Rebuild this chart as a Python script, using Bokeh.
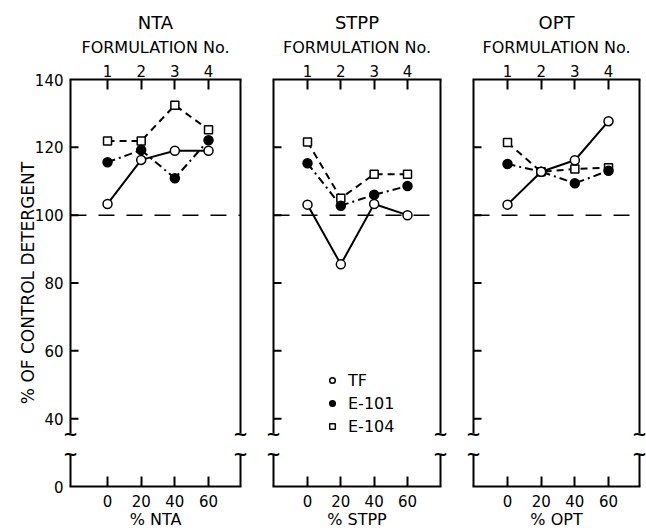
from bokeh.plotting import figure
from bokeh.models import Range1d, LinearAxis, FixedTicker, Legend, LegendItem, Label
from bokeh.layouts import row
from bokeh.embed import file_html
from bokeh.resources import INLINE

FONT = "DejaVu Sans"

# ---- data ----
pct = [0, 20, 40, 60]                      # % substitute
formulation = ["1", "2", "3", "4"]         # formulation numbers (top axis)
y_ticks = [20, 40, 60, 80, 100, 120, 140]  # 20 is where the broken axis shows "0"
y_labels = ["0", "40", "60", "80", "100", "120", "140"]
control_level = 100

panel_names = ["NTA", "STPP", "OPT"]
x_labels = ["% NTA", "% STPP", "% OPT"]
series_names = ["TF", "E-101", "E-104"]

nta_tf = [103.3, 116.3, 119.0, 119.0]
nta_e101 = [115.6, 119.2, 110.9, 122.1]
nta_e104 = [121.9, 121.9, 132.4, 125.2]

stpp_tf = [103.1, 85.5, 103.3, 100.0]
stpp_e101 = [115.3, 102.8, 106.0, 108.6]
stpp_e104 = [121.6, 105.0, 112.1, 112.1]

opt_tf = [103.1, 112.8, 116.2, 127.7]
opt_e101 = [115.1, 112.8, 109.4, 113.1]
opt_e104 = [121.4, 112.8, 113.6, 114.0]

panel_data = [
    (nta_tf, nta_e101, nta_e104),
    (stpp_tf, stpp_e101, stpp_e104),
    (opt_tf, opt_e101, opt_e104),
]

# ---- layout / style (not data) ----
E = 7  # px of hidden frame beyond each visible box side (keeps break marks unclipped)
geom = [  # visible x_start, visible x_end, visible width, border left, border right
    (-22.0, 79.0, 170, 63, 9),
    (-20.4, 79.8, 167, 10, 9),
    (-20.2, 78.4, 166, 10, 0),
]
BREAK_TOP = 35.6
BREAK_BOT = 29.6

line_dashes = ["solid", "8 4 2 4", "7 5"]
markers = [
    dict(marker="circle", size=9, fill_color="white"),
    dict(marker="circle", size=9, fill_color="black"),
    dict(marker="square", size=8, fill_color="white"),
]


def style_axis(ax, size="15px"):
    ax.major_label_text_font = FONT
    ax.major_label_text_font_size = size
    ax.major_label_text_color = "black"
    ax.axis_label_text_font = FONT
    ax.axis_label_text_font_style = "normal"
    ax.axis_label_text_color = "black"
    ax.minor_tick_line_color = None
    ax.major_tick_line_color = "black"
    ax.major_tick_line_width = 2
    ax.major_tick_out = 0


figs = []
for i, (name, xl, data, g) in enumerate(zip(panel_names, x_labels, panel_data, geom)):
    vx0, vx1, vw, bl, br = g
    d = (vx1 - vx0) / vw          # data units per pixel
    fx0, fx1 = vx0 - E * d, vx1 + E * d
    p = figure(width=bl + vw + 2 * E + br, height=531,
               x_range=Range1d(fx0, fx1), y_range=Range1d(20, 140),
               output_backend="svg", toolbar_location=None,
               min_border_left=bl, min_border_right=br,
               min_border_top=79, min_border_bottom=43, title=name)
    p.outline_line_color = None
    p.xgrid.visible = False
    p.ygrid.visible = False
    p.background_fill_color = "white"
    p.border_fill_color = "white"

    p.title.align = "center"
    p.title.text_font = FONT
    p.title.text_font_size = "18px"
    p.title.text_font_style = "normal"
    p.title.text_color = "black"
    p.title.standoff = 4

    # bottom axis
    xa = p.xaxis[0]
    xa.ticker = FixedTicker(ticks=pct)
    xa.bounds = (vx0 - d, vx1 + d)
    xa.axis_label = xl
    style_axis(xa)
    xa.axis_label_text_font_size = "16px"
    xa.axis_line_width = 2
    xa.major_tick_in = 10
    xa.major_label_standoff = 8
    xa.axis_label_standoff = 0

    # top axis: formulation number
    top = LinearAxis(ticker=FixedTicker(ticks=pct), bounds=(vx0 - d, vx1 + d),
                     major_label_overrides={v: f for v, f in zip(pct, formulation)},
                     axis_label="FORMULATION No.")
    style_axis(top)
    top.axis_label_text_font_size = "16px"
    top.axis_line_width = 2
    top.major_tick_in = 10
    top.major_label_standoff = 3
    top.axis_label_standoff = 5
    p.add_layout(top, "above")

    # left axis (labels only on the first panel; ticks drawn from the visible box side)
    ya = p.yaxis[0]
    if i == 0:
        ya.ticker = FixedTicker(ticks=y_ticks)
        ya.major_label_overrides = {v: s for v, s in zip(y_ticks, y_labels)}
        style_axis(ya)
        ya.axis_line_color = None
        ya.major_tick_line_color = None
        ya.major_tick_in = 0
        ya.major_label_standoff = 0
        ya.axis_label = "% OF CONTROL DETERGENT"
        ya.axis_label_text_font_size = "17px"
        ya.axis_label_standoff = -6
    else:
        ya.visible = False
    inner = y_ticks[1:-1]
    p.ray(x=[vx0] * len(inner), y=inner, length=8, length_units="screen",
          angle=0, line_color="black", line_width=2)

    # box sides with axis break
    p.segment(x0=[vx0, vx0, vx1, vx1], y0=[140, BREAK_BOT, 140, BREAK_BOT],
              x1=[vx0, vx0, vx1, vx1], y1=[BREAK_TOP, 20, BREAK_TOP, 20],
              line_color="black", line_width=2)
    for xe in (vx0, vx1):
        for yb in (BREAK_TOP, BREAK_BOT):
            p.add_layout(Label(x=xe, y=yb, text="~", text_align="center", text_baseline="middle",
                               text_font=FONT, text_font_size="18px", text_font_style="bold",
                               text_color="black"))

    # control level (100 %)
    p.segment(x0=[vx0], y0=[control_level], x1=[vx1], y1=[control_level],
              line_color="black", line_width=1.5, line_dash="16 12")

    # series (draw E-104 first, TF last so open circles sit on top)
    rends = {}
    for k in (2, 1, 0):
        p.line(pct, data[k], line_color="black", line_width=2, line_dash=line_dashes[k])
    for k in (2, 1, 0):
        m = markers[k]
        rends[k] = p.scatter(pct, data[k], marker=m["marker"], size=m["size"],
                             fill_color=m["fill_color"], line_color="black", line_width=1.5)

    if i == 1:
        legend = Legend(items=[LegendItem(label=series_names[k], renderers=[rends[k]]) for k in (0, 1, 2)],
                        location=(52 + E, 50))
        legend.border_line_color = None
        legend.background_fill_alpha = 0
        legend.label_text_font = FONT
        legend.label_text_font_size = "16px"
        legend.label_text_color = "black"
        legend.glyph_width = 14
        legend.glyph_height = 20
        legend.label_height = 20
        legend.spacing = 3
        legend.padding = 0
        legend.margin = 0
        legend.label_standoff = 9
        p.add_layout(legend, "center")

    figs.append(p)

layout = row(*figs)
open("out.html", "w").write(file_html(layout, INLINE))
